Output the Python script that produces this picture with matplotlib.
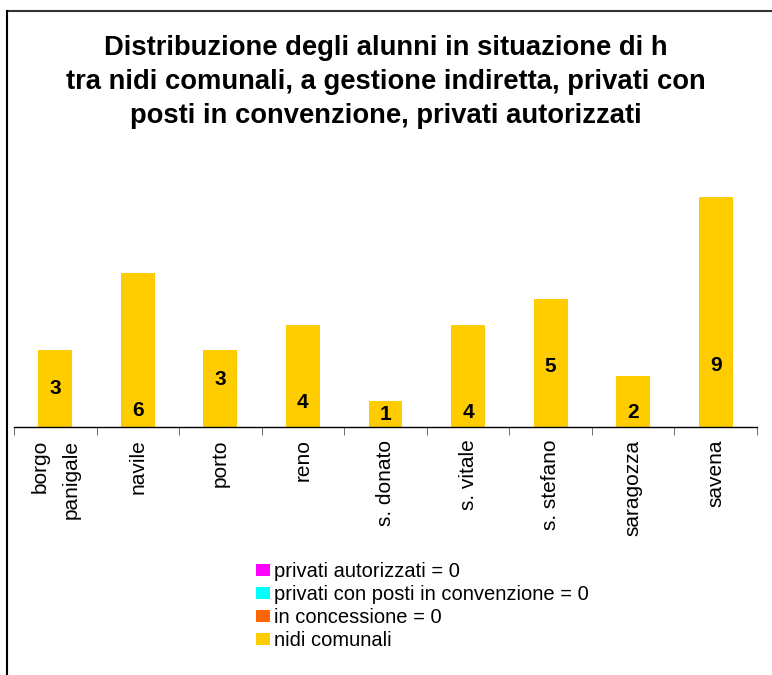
import matplotlib
matplotlib.use("Agg")
import matplotlib.pyplot as plt
from matplotlib.lines import Line2D

plt.rcParams["font.family"] = ["Liberation Sans", "DejaVu Sans"]

# data
quartieri = ["borgo\npanigale", "navile", "porto", "reno", "s. donato",
             "s. vitale", "s. stefano", "saragozza", "savena"]
nidi_comunali = [3, 6, 3, 4, 1, 4, 5, 2, 9]
in_concessione = [0, 0, 0, 0, 0, 0, 0, 0, 0]
privati_convenzione = [0, 0, 0, 0, 0, 0, 0, 0, 0]
privati_autorizzati = [0, 0, 0, 0, 0, 0, 0, 0, 0]
# where each value label sits inside its bar (excel put them unevenly)
label_y = [1.52, 0.66, 1.84, 0.94, 0.5, 0.55, 2.38, 0.55, 2.42]

fig = plt.figure(figsize=(7.72, 6.75), dpi=100)
ax = fig.add_axes([0.0181, 0.3674, 0.9625, 0.3793])

x = list(range(len(quartieri)))
w = 0.41
b1 = ax.bar(x, nidi_comunali, width=w, color="#FFCC00", label="nidi comunali")
b2 = ax.bar(x, in_concessione, width=w, bottom=nidi_comunali, color="#FF6600",
            label="in concessione = 0")
b3 = ax.bar(x, privati_convenzione, width=w, bottom=nidi_comunali, color="#00FFFF",
            label="privati con posti in convenzione = 0")
b4 = ax.bar(x, privati_autorizzati, width=w, bottom=nidi_comunali, color="#FF00FF",
            label="privati autorizzati = 0")

for xi, v, ly in zip(x, nidi_comunali, label_y):
    ax.text(xi, ly, str(v), ha="center", va="center", fontsize=15, fontweight="bold")

ax.set_xlim(-0.5, len(quartieri) - 0.5)
ax.set_ylim(0, 10)
ax.set_yticks([])
for s in ["left", "right", "top"]:
    ax.spines[s].set_visible(False)
ax.spines["bottom"].set_linewidth(1.0)

ax.set_xticks(x)
ax.set_xticklabels(quartieri, rotation=90, fontsize=15, va="top", ha="center",
                   multialignment="right", linespacing=1.8)
ax.set_xticks([i - 0.5 for i in range(len(quartieri) + 1)], minor=True)
ax.tick_params(axis="x", which="major", length=0, pad=9)
ax.tick_params(axis="x", which="minor", length=6, color="#555555", direction="out")

fig.text(0.5, 0.8785, "Distribuzione degli alunni in situazione di h\n"
         "tra nidi comunali, a gestione indiretta, privati con\n"
         "posti in convenzione, privati autorizzati",
         ha="center", va="center", fontsize=19.7, fontweight="bold", linespacing=1.4)

handles = [b4, b3, b2, b1]
fig.legend(handles, [h.get_label() for h in handles], loc="upper left",
           bbox_to_anchor=(0.3316, 0.167), frameon=False, fontsize=14.5,
           handlelength=0.7, handleheight=0.5, handletextpad=0.2,
           labelspacing=0.2, borderaxespad=0, borderpad=0)

# chart area border (top and left edges visible)
fig.add_artist(Line2D([0.009, 1.0], [0.983, 0.983], color="#333333", lw=1.5,
                      transform=fig.transFigure))
fig.add_artist(Line2D([0.0095, 0.0095], [0.0, 0.983], color="black", lw=1.5,
                      transform=fig.transFigure))

fig.savefig("out.png", dpi=100)
